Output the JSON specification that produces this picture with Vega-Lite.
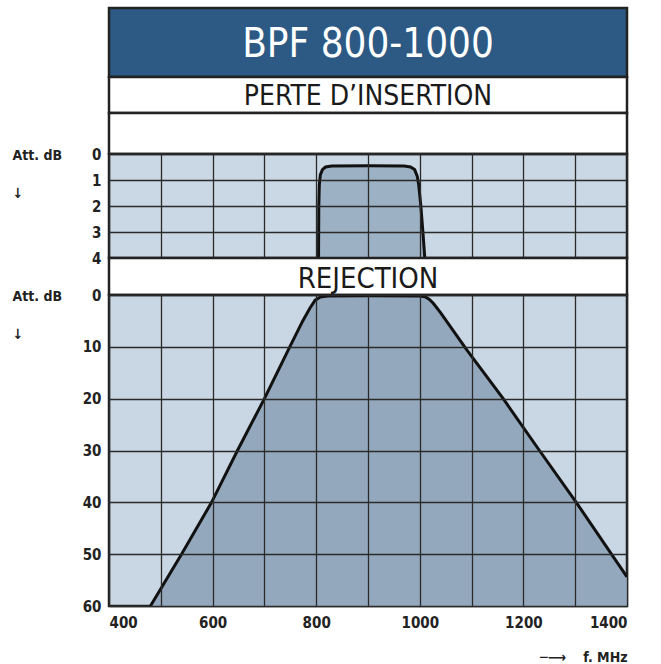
{
  "$schema": "https://vega.github.io/schema/vega-lite/v6.json",
  "padding": {"left": 10, "top": 6, "right": 5, "bottom": 3},
  "background": "white",
  "bounds": "flush",
  "spacing": 0,
  "config": {
    "view": {"stroke": "#222222", "strokeWidth": 2.5},
    "font": "DejaVu Sans Condensed",
    "concat": {"spacing": 0},
    "axis": {
      "labelFont": "DejaVu Sans Condensed",
      "labelFontWeight": "bold",
      "labelFontSize": 15,
      "labelColor": "#222222",
      "titleFont": "DejaVu Sans Condensed",
      "titleFontWeight": "bold",
      "titleFontSize": 14,
      "titleColor": "#222222",
      "gridColor": "#2a2a2a",
      "gridWidth": 1.3,
      "gridOpacity": 1,
      "domain": false,
      "ticks": false
    }
  },
  "datasets": {
    "insertion": [
      {"i": 1, "f": 804.5, "db": 4.1},
      {"i": 2, "f": 805, "db": 2.0},
      {"i": 3, "f": 806, "db": 1.2},
      {"i": 4, "f": 808, "db": 0.8},
      {"i": 5, "f": 812, "db": 0.6},
      {"i": 6, "f": 818, "db": 0.5},
      {"i": 7, "f": 830, "db": 0.46},
      {"i": 8, "f": 900, "db": 0.45},
      {"i": 9, "f": 970, "db": 0.46},
      {"i": 10, "f": 982, "db": 0.5},
      {"i": 11, "f": 990, "db": 0.6},
      {"i": 12, "f": 995, "db": 0.85},
      {"i": 13, "f": 998, "db": 1.2},
      {"i": 14, "f": 1002, "db": 2.0},
      {"i": 15, "f": 1006, "db": 3.0},
      {"i": 16, "f": 1010, "db": 4.1}
    ],
    "rejection": [
      {"i": 1, "f": 480, "db": 60},
      {"i": 2, "f": 540, "db": 50},
      {"i": 3, "f": 598, "db": 40},
      {"i": 4, "f": 648, "db": 30},
      {"i": 5, "f": 700, "db": 20},
      {"i": 6, "f": 749, "db": 10},
      {"i": 7, "f": 774, "db": 5},
      {"i": 8, "f": 788, "db": 2.5},
      {"i": 9, "f": 798, "db": 1.0},
      {"i": 10, "f": 808, "db": 0.4},
      {"i": 11, "f": 822, "db": 0.2},
      {"i": 12, "f": 900, "db": 0.15},
      {"i": 13, "f": 1000, "db": 0.2},
      {"i": 14, "f": 1010, "db": 0.35},
      {"i": 15, "f": 1018, "db": 0.8},
      {"i": 16, "f": 1026, "db": 1.6},
      {"i": 17, "f": 1040, "db": 3.4},
      {"i": 18, "f": 1090, "db": 10.5},
      {"i": 19, "f": 1161, "db": 20},
      {"i": 20, "f": 1231, "db": 30},
      {"i": 21, "f": 1302, "db": 40},
      {"i": 22, "f": 1370, "db": 50},
      {"i": 23, "f": 1400, "db": 54.4}
    ]
  },
  "vconcat": [
    {
      "width": 518,
      "height": 69,
      "view": {"fill": "#2c5a84", "stroke": "#222222", "strokeWidth": 2.5},
      "data": {"values": [{"t": "BPF 800-1000", "f": 900}]},
      "mark": {"type": "text", "font": "DejaVu Sans Condensed", "fontSize": 40, "fontWeight": "normal", "color": "white", "baseline": "middle", "align": "center", "dy": 2},
      "encoding": {
        "x": {"field": "f", "type": "quantitative", "scale": {"domain": [400, 1400], "nice": false, "zero": false}, "axis": null},
        "text": {"field": "t"}
      }
    },
    {
      "width": 518,
      "height": 36,
      "view": {"fill": "white", "stroke": "#222222", "strokeWidth": 2.5},
      "data": {"values": [{"t": "PERTE D’INSERTION", "f": 900}]},
      "mark": {"type": "text", "font": "DejaVu Sans Condensed", "fontSize": 28, "color": "#1a1a1a", "baseline": "middle", "align": "center", "dy": 2},
      "encoding": {
        "x": {"field": "f", "type": "quantitative", "scale": {"domain": [400, 1400], "nice": false, "zero": false}, "axis": null},
        "text": {"field": "t"}
      }
    },
    {
      "width": 518,
      "height": 41,
      "view": {"fill": "white", "stroke": "#222222", "strokeWidth": 2.5},
      "data": {"values": [{"t": "", "f": 900}]},
      "mark": {"type": "text"},
      "encoding": {
        "x": {"field": "f", "type": "quantitative", "scale": {"domain": [400, 1400], "nice": false, "zero": false}, "axis": null},
        "text": {"field": "t"}
      }
    },
    {
      "width": 518,
      "height": 104,
      "view": {"fill": "#cad7e4"},
      "data": {"name": "insertion"},
      "encoding": {
        "x": {
          "field": "f", "type": "quantitative",
          "scale": {"domain": [400, 1400], "nice": false, "zero": false},
          "axis": {"values": [400, 500, 600, 700, 800, 900, 1000, 1100, 1200, 1300, 1400], "labels": false, "title": null, "grid": true, "minExtent": 0, "maxExtent": 0, "zindex": 1}
        },
        "y": {
          "field": "db", "type": "quantitative", "stack": null,
          "scale": {"domain": [0, 4], "reverse": true, "nice": false, "zero": false},
          "axis": {
            "values": [0, 1, 2, 3, 4], "grid": true, "labelPadding": 8, "zindex": 1,
            "title": ["Att. dB", "↓"], "titleAngle": 0, "titleAlign": "left", "titleBaseline": "alphabetic",
            "titleX": -97, "titleY": 5, "titleLineHeight": 38, "titleAnchor": null
          }
        }
      },
      "layer": [
        {"mark": {"type": "area", "color": "#9db1c4", "opacity": 1, "clip": true}, "encoding": {"y2": {"datum": 4}}},
        {"mark": {"type": "line", "color": "#111111", "strokeWidth": 3, "clip": true}, "encoding": {"order": {"field": "i", "type": "quantitative"}}}
      ]
    },
    {
      "width": 518,
      "height": 37,
      "view": {"fill": "white", "stroke": "#222222", "strokeWidth": 2.5},
      "data": {"values": [{"t": "REJECTION", "f": 900}]},
      "mark": {"type": "text", "font": "DejaVu Sans Condensed", "fontSize": 29, "color": "#1a1a1a", "baseline": "middle", "align": "center", "dy": 2},
      "encoding": {
        "x": {"field": "f", "type": "quantitative", "scale": {"domain": [400, 1400], "nice": false, "zero": false}, "axis": null},
        "text": {"field": "t"}
      }
    },
    {
      "width": 518,
      "height": 311,
      "view": {"fill": "#c9d6e3"},
      "data": {"name": "rejection"},
      "encoding": {
        "x": {
          "field": "f", "type": "quantitative",
          "scale": {"domain": [400, 1400], "nice": false, "zero": false},
          "axis": {
            "values": [400, 500, 600, 700, 800, 900, 1000, 1100, 1200, 1300, 1400],
            "format": "d", "zindex": 1,
            "labelExpr": "datum.value % 200 == 0 ? datum.label : ''",
            "labelPadding": 9, "grid": true,
            "title": "─⟶\u00a0\u00a0\u00a0\u00a0f. MHz", "titleAnchor": null, "titleAlign": "right", "titleBaseline": "alphabetic",
            "titleX": 518, "titleY": 55, "titleFontSize": 14
          }
        },
        "y": {
          "field": "db", "type": "quantitative", "stack": null,
          "scale": {"domain": [0, 60], "reverse": true, "nice": false, "zero": false},
          "axis": {
            "values": [0, 10, 20, 30, 40, 50, 60], "grid": true, "labelPadding": 8, "zindex": 1,
            "title": ["Att. dB", "↓"], "titleAngle": 0, "titleAlign": "left", "titleBaseline": "alphabetic",
            "titleX": -97, "titleY": 5, "titleLineHeight": 38, "titleAnchor": null
          }
        }
      },
      "layer": [
        {"mark": {"type": "area", "color": "#93a8bc", "opacity": 1, "clip": true}, "encoding": {"y2": {"datum": 60}}},
        {"mark": {"type": "line", "color": "#111111", "strokeWidth": 3, "clip": true}, "encoding": {"order": {"field": "i", "type": "quantitative"}}}
      ]
    }
  ]
}
